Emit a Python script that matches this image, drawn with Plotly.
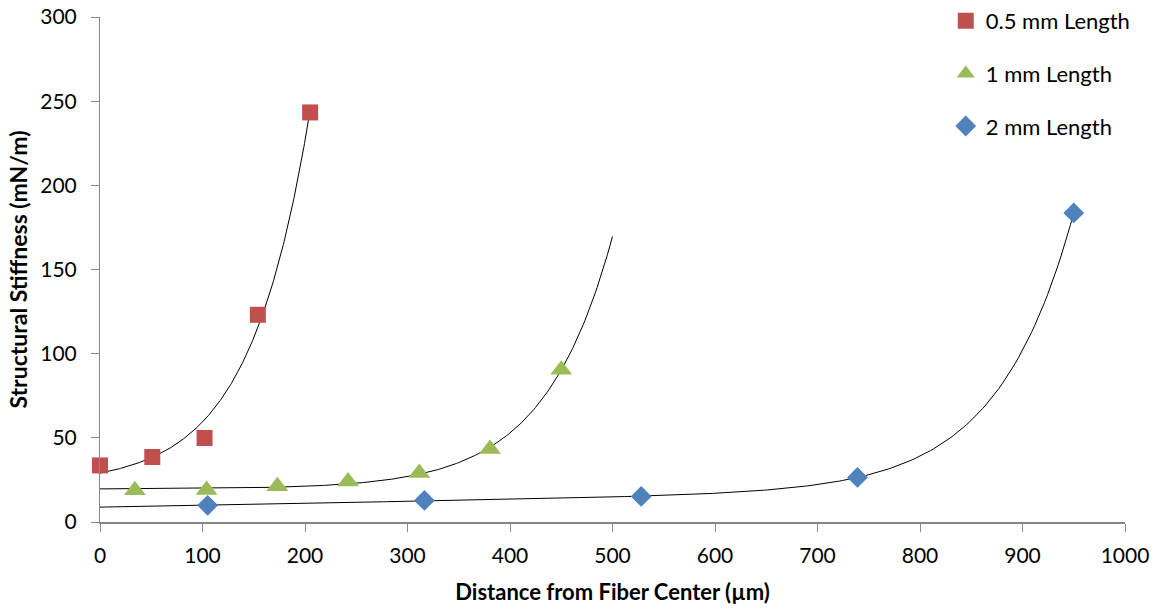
import numpy as np
import plotly.graph_objects as go

# Data
x_05 = [0, 51, 102, 154, 205]
y_05 = [33.6, 38.6, 49.9, 123.1, 243.3]

x_1 = [34, 104, 173, 242, 311.5, 380.5, 450]
y_1 = [18.8, 19.0, 21.2, 24.1, 29.1, 43.4, 90.5]

x_2 = [105, 316.5, 528, 739, 950]
y_2 = [9.9, 12.8, 15.2, 26.5, 183.6]

series_names = ["0.5 mm Length", "1 mm Length", "2 mm Length"]
x_ticks = [0, 100, 200, 300, 400, 500, 600, 700, 800, 900, 1000]
y_ticks = [0, 50, 100, 150, 200, 250, 300]

RED = "#C0504D"
GREEN = "#9BBB59"
BLUE = "#4F81BD"
FONT = "Lato"
AXIS = "#868686"

fig = go.Figure()


# least-squares trend: y = a + d*x + b*exp(c*x) (d optional), fitted to the data
def trend(xs, ys, x0, x1, linear=False):
    xs = np.asarray(xs, float)
    ys = np.asarray(ys, float)
    best = None
    for c in np.linspace(0.001, 0.05, 2000):
        cols = [np.ones_like(xs), np.exp(c * xs)]
        if linear:
            cols.append(xs)
        A = np.vstack(cols).T
        coef, *_ = np.linalg.lstsq(A, ys, rcond=None)
        err = np.sum((A @ coef - ys) ** 2)
        if best is None or err < best[0]:
            best = (err, c, coef)
    _, c, coef = best
    xx = np.linspace(x0, x1, 300)
    yy = coef[0] + coef[1] * np.exp(c * xx)
    if linear:
        yy = yy + coef[2] * xx
    return xx, yy


for xs, ys, x0, x1, lin in [(x_05, y_05, 0, max(x_05), False),
                             (x_1, y_1, 0, 500, False),
                             (x_2, y_2, 0, max(x_2), True)]:
    xx, yy = trend(xs, ys, x0, x1, lin)
    fig.add_trace(go.Scatter(x=xx, y=yy, mode="lines",
                             line=dict(color="black", width=1),
                             showlegend=False, hoverinfo="skip"))

fig.add_trace(go.Scatter(x=x_05, y=y_05, mode="markers", name=series_names[0],
                         legendgroup="a", cliponaxis=False,
                         marker=dict(symbol="square", size=16, color=RED)))
fig.add_trace(go.Scatter(x=x_1, y=y_1, mode="markers", name=series_names[1],
                         legendgroup="b", cliponaxis=False,
                         marker=dict(symbol="triangle-up", size=19, color=GREEN)))
fig.add_trace(go.Scatter(x=x_2, y=y_2, mode="markers", name=series_names[2],
                         legendgroup="c", cliponaxis=False,
                         marker=dict(symbol="diamond", size=16, color=BLUE)))

fig.update_layout(
    width=1159, height=609,
    margin=dict(l=100, r=34, t=17, b=87, autoexpand=False),
    paper_bgcolor="white", plot_bgcolor="white",
    font=dict(family=FONT, size=21, color="#000000"),
    legend=dict(xref="container", yref="container",
                x=0.816, y=1.0, xanchor="left", yanchor="top",
                font=dict(family=FONT, size=22, color="#000000"),
                tracegroupgap=21, itemsizing="trace",
                bgcolor="rgba(0,0,0,0)"),
    xaxis=dict(range=[0, 1000], tickvals=x_ticks, ticktext=[str(v) for v in x_ticks],
               showgrid=False, zeroline=False, showline=True,
               linecolor=AXIS, linewidth=2,
               ticks="outside", ticklen=8, tickcolor=AXIS, tickwidth=1,
               ticklabelstandoff=6,
               tickfont=dict(family=FONT, size=21),
               title=dict(text="<b>Distance from Fiber Center (µm)</b>",
                          font=dict(family=FONT, size=22), standoff=18)),
    yaxis=dict(range=[0, 300], tickvals=y_ticks, ticktext=[str(v) for v in y_ticks],
               showgrid=False, zeroline=False, showline=True,
               linecolor=AXIS, linewidth=1,
               ticks="outside", ticklen=8, tickcolor=AXIS, tickwidth=1,
               ticklabelstandoff=10,
               tickfont=dict(family=FONT, size=21),
               title=dict(text="<b>Structural Stiffness (mN/m)</b>",
                          font=dict(family=FONT, size=23), standoff=6)),
)

fig.write_html("out.html")
